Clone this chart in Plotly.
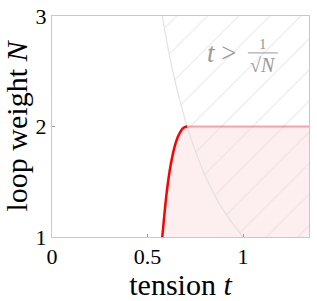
import plotly.graph_objects as go

# Critical curve (red): tension t vs loop weight N
crit_N = [1.0, 1.2, 1.4, 1.6, 1.8, 1.9, 1.95, 1.98, 1.995, 2.0]
crit_t = [0.577, 0.588, 0.600, 0.616, 0.639, 0.657, 0.671, 0.683, 0.695, 0.707]

# Boundary of hatched region t > 1/sqrt(N)
bound_N = [1.0, 1.25, 1.5, 1.75, 2.0, 2.25, 2.5, 2.75, 3.0]
bound_t = [1.0, 0.894, 0.816, 0.756, 0.707, 0.667, 0.632, 0.603, 0.577]

t_max = 1.345
N_plateau = 2.0
x_ticks = [0, 0.5, 1]
x_ticklabels = ["0", "0.5", "1"]
y_ticks = [1, 2, 3]
y_ticklabels = ["1", "2", "3"]

FONT = "Liberation Serif"
fig = go.Figure()

# pink region right of the critical curve, below N=2
fig.add_trace(go.Scatter(
    x=crit_t + [t_max, t_max], y=crit_N + [N_plateau, 1.0],
    fill="toself", fillcolor="rgba(252,234,234,0.75)", line=dict(width=0),
    mode="lines", hoverinfo="skip", showlegend=False))

# hatched region t > 1/sqrt(N)
fig.add_trace(go.Scatter(
    x=bound_t + [t_max, t_max], y=bound_N + [3.0, 1.0],
    fill="toself", fillcolor="rgba(0,0,0,0)",
    fillpattern=dict(shape="/", fgcolor="#dadada",
                     bgcolor="rgba(0,0,0,0)", size=22, solidity=0.06),
    line=dict(width=0), mode="lines", hoverinfo="skip", showlegend=False))

# boundary curve
fig.add_trace(go.Scatter(
    x=bound_t, y=bound_N, mode="lines",
    line=dict(color="#e2e2e2", width=1.2, shape="spline"),
    hoverinfo="skip", showlegend=False))

# plateau line
fig.add_trace(go.Scatter(
    x=[crit_t[-1], t_max], y=[N_plateau, N_plateau], mode="lines",
    line=dict(color="rgba(255,0,0,0.35)", width=2),
    hoverinfo="skip", showlegend=False))

# critical curve
fig.add_trace(go.Scatter(
    x=crit_t, y=crit_N, mode="lines",
    line=dict(color="red", width=2.5, shape="spline"),
    hoverinfo="skip", showlegend=False))

gray = "#999999"
fig.add_annotation(x=0.89, y=2.666, text="<i>t</i> >", showarrow=False,
                   font=dict(family=FONT, size=27, color=gray), xref="x", yref="y")
fig.add_annotation(x=1.103, y=2.75, text="1", showarrow=False,
                   font=dict(family=FONT, size=15, color=gray), xref="x", yref="y")
fig.add_annotation(x=1.103, y=2.56, text="√<i>N</i>", showarrow=False,
                   font=dict(family=FONT, size=20, color=gray), xref="x", yref="y")
fig.add_shape(type="line", x0=1.025, x1=1.182, y0=2.666, y1=2.666,
              line=dict(color=gray, width=1), xref="x", yref="y")

axis_common = dict(showgrid=False, zeroline=False, showline=True, mirror=True,
                   linecolor="#c8c8c8", linewidth=1, ticks="inside", ticklen=3,
                   tickcolor="#999999", automargin=False,
                   tickfont=dict(family=FONT, size=22, color="black"))

fig.update_xaxes(range=[0, t_max], tickvals=x_ticks, ticktext=x_ticklabels,
                 title=dict(text="tension <i>t</i>", font=dict(family=FONT, size=30, color="black"),
                            standoff=0), **axis_common)
fig.update_yaxes(range=[1, 3], tickvals=y_ticks, ticktext=y_ticklabels,
                 title=dict(text="loop weight <i>N</i>", font=dict(family=FONT, size=30, color="black"),
                            standoff=2), **axis_common)

fig.update_layout(width=317, height=301, margin=dict(l=52, r=8, t=16, b=64),
                  plot_bgcolor="white", paper_bgcolor="white")

fig.write_html("out.html", config={"displayModeBar": False},
               post_script="document.body.style.margin='0';document.body.style.overflow='hidden';")
